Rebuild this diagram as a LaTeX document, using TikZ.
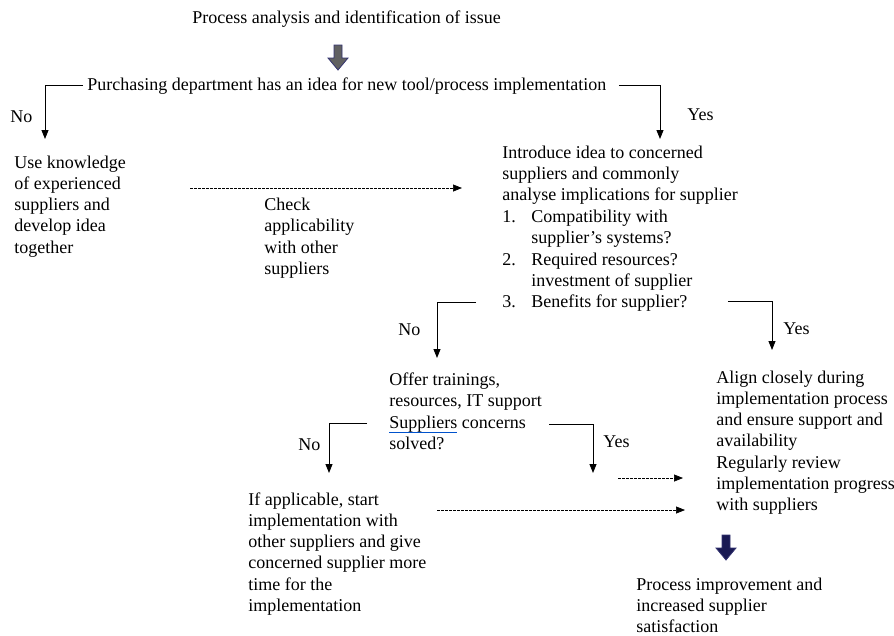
\documentclass[tikz,border=0pt]{standalone}
\usepackage{fontspec}
\setmainfont{Liberation Serif}
\usetikzlibrary{arrows.meta}
\tikzset{every node/.style={font=\fontsize{18}{21.3}\selectfont, inner sep=0pt, align=left, anchor=base west}}
\tikzset{
  dotarrow/.style={->, line width=0.7pt, dash pattern=on 2.5pt off 1.5pt},
  blockdown/.pic={
    \filldraw[pic actions] (-4,0) -- (4,0) -- (4,13) -- (10,13) -- (0,25) -- (-10,13) -- (-4,13) -- cycle;
  }
}

\begin{document}
\begin{tikzpicture}[x=1pt, y=-1pt, >={Triangle[length=9pt, width=7pt]}, line width=0.9pt]
  % Colors of the block arrows.
  \colorlet{topfill}{black!62}
  \colorlet{botfill}{blue!25!black!90}
  \colorlet{edgecol}{blue!30!black!80}

  \useasboundingbox (0,0) rectangle (894,635);

  % Steps (a node sits on the baseline of its last line).
  \node (title) at (192,23) {Process analysis and identification of issue};
  \node (purch) at (87,90) {Purchasing department has an idea for new tool/process implementation};
  \node (use) at (14,253.2) {Use knowledge\\of experienced\\suppliers and\\develop idea\\together};
  \node (check) at (264,274.5) {Check\\applicability\\with other\\suppliers};
  \node (intro) at (502,200.6) {Introduce idea to concerned\\suppliers and commonly\\analyse implications for supplier};
  \node (qOne) at (502,243.3) {\makebox[29pt][l]{1.}Compatibility with\\\hspace*{29pt}supplier's systems?};
  \node (qTwo) at (502,286.3) {\makebox[29pt][l]{2.}Required resources?\\\hspace*{29pt}investment of supplier};
  \node (qThree) at (502,307) {\makebox[29pt][l]{3.}Benefits for supplier?};
  \node (offer) at (389,406.3) {Offer trainings,\\resources, IT support};
  \node (solved) at (389,449.3) {Suppliers concerns\\solved?};
  \node (align) at (716,510.8) {Align closely during\\implementation process\\and ensure support and\\availability\\Regularly review\\implementation progress\\with suppliers};
  \node (ifapp) at (248,611.5) {If applicable, start\\implementation with\\other suppliers and give\\concerned supplier more\\time for the\\implementation};
  \node (result) at (636,632.6) {Process improvement and\\increased supplier\\satisfaction};

  % Yes / No labels.
  \node (noA) at (10,122) {No};
  \node (yesA) at (687,120) {Yes};
  \node (noB) at (398,335) {No};
  \node (yesB) at (783,334) {Yes};
  \node (noC) at (298,450) {No};
  \node (yesC) at (603,447) {Yes};

  % Ends of the connectors.
  \coordinate (noAend) at (45,139);
  \coordinate (yesAend) at (660,139);
  \coordinate (noBend) at (437,358);
  \coordinate (yesBend) at (772,350);
  \coordinate (noCend) at (329,473);
  \coordinate (yesCend) at (593,473);
  \coordinate (chkA) at (190,188);
  \coordinate (chkB) at (462,188);
  \coordinate (solA) at (618,478);
  \coordinate (solB) at (683,478);
  \coordinate (ifA) at (437,510);
  \coordinate (ifB) at (685,510);

  % Decisions.
  \draw[->] ([xshift=-4pt]purch.west) -| (noAend);
  \draw[->] ([xshift=12pt]purch.east) -| (yesAend);
  \draw[->] ([xshift=-26pt]qThree.west) -| (noBend);
  \draw[->] ([shift={(40pt,1.5pt)}]qThree.east) -| (yesBend);
  \draw[->] ([shift={(-22pt,26.3pt)}]solved.base west) -| (noCend);
  \draw[->] ([shift={(23pt,25.3pt)}]solved.base east) -| (yesCend);

  % Dotted links.
  \draw[dotarrow] (chkA) -- (chkB);
  \draw[dotarrow] (solA) -- (solB);
  \draw[dotarrow] (ifA) -- (ifB);

  % Spelling mark under the first word.
  \draw[blue!60!cyan!80!black, line width=0.4pt, double, double distance=0.8pt] ([yshift=16.3pt]solved.base west) -- ++(68,0);

  % Block arrows.
  \pic[fill=topfill, draw=edgecol, line width=0.8pt] at (338,45) {blockdown};
  \pic[fill=botfill, draw=edgecol, line width=0.8pt] at (726,535) {blockdown};
\end{tikzpicture}
\end{document}
